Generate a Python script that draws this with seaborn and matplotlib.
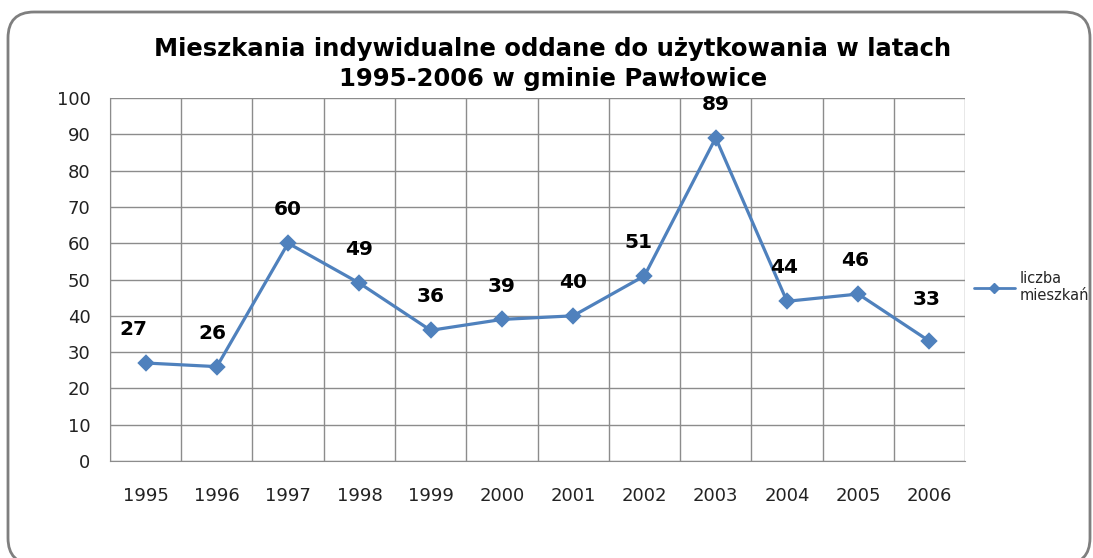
import matplotlib
matplotlib.use("Agg")
import matplotlib.pyplot as plt
from matplotlib.patches import FancyBboxPatch
from matplotlib.lines import Line2D
import numpy as np
import pandas as pd
import seaborn as sns

sns.set_style("white")
plt.rcParams['font.family'] = ['DejaVu Sans']

years = ["1995", "1996", "1997", "1998", "1999", "2000",
         "2001", "2002", "2003", "2004", "2005", "2006"]
flats = [27, 26, 60, 49, 36, 39, 40, 51, 89, 44, 46, 33]
# small horizontal nudges of the value labels (points), as in the original
label_dx = [-9, -3, 0, 0, 0, 0, 0, -4, 0, -2, -2, -2]
series_name = "liczba\nmieszkań"
title = "Mieszkania indywidualne oddane do użytkowania w latach\n1995-2006 w gminie Pawłowice"

df = pd.DataFrame({"rok": years, "liczba": flats})
blue = "#4F81BD"
grid = "#8C8C8C"

fig = plt.figure(figsize=(10.93, 5.58), dpi=100)
fig.patch.set_facecolor("white")

# rounded chart frame (pixel coordinates)
frame = FancyBboxPatch((8, -6), 1082, 552, boxstyle="round,pad=0,rounding_size=26",
                       transform=None, facecolor="none", edgecolor="#7F7F7F",
                       linewidth=2, zorder=-10)
fig.patches.append(frame)

ax = fig.add_axes([0.1006, 0.1738, 0.7824, 0.6506])
ax.set_facecolor("none")
sns.pointplot(data=df, x="rok", y="liczba", color=blue, markers="D",
              markersize=7, linewidth=2.3, ax=ax)

ax.set_xlim(-0.5, len(years) - 0.5)
ax.set_ylim(0, 100)
ax.set_yticks(np.arange(0, 101, 10))
ax.set_xticks(np.arange(-0.5, len(years), 1), minor=True)
ax.grid(False)
ax.grid(True, axis="y", which="major", color=grid, linewidth=1)
ax.grid(True, axis="x", which="minor", color=grid, linewidth=1)
ax.set_axisbelow(True)
for s in ax.spines.values():
    s.set_visible(False)
ax.spines["left"].set_visible(True)
ax.spines["left"].set_color(grid)
ax.spines["bottom"].set_visible(True)
ax.spines["bottom"].set_color(grid)
ax.tick_params(axis="x", which="both", length=0, pad=19, labelsize=13, colors="#222222")
ax.tick_params(axis="y", length=0, pad=14, labelsize=13, colors="#222222")
ax.set_xlabel("")
ax.set_ylabel("")

for i, v in enumerate(flats):
    dy = 30 if i == len(flats) - 1 else 24
    ax.annotate(str(v), (i, v), xytext=(label_dx[i], dy), textcoords="offset points",
                ha="center", va="center", fontsize=14.5, fontweight="bold", color="black")

fig.text(0.506, 0.885, title, ha="center", va="center", fontsize=17.5,
         fontweight="bold", linespacing=1.3, color="black")

handle = Line2D([], [], color=blue, marker="D", markersize=5, linewidth=2)
ax.legend([handle], [series_name], loc="center left", bbox_to_anchor=(0.995, 0.48),
          frameon=False, fontsize=10.5, handlelength=2.8, handletextpad=0.3)

fig.savefig("out.png", dpi=100)
